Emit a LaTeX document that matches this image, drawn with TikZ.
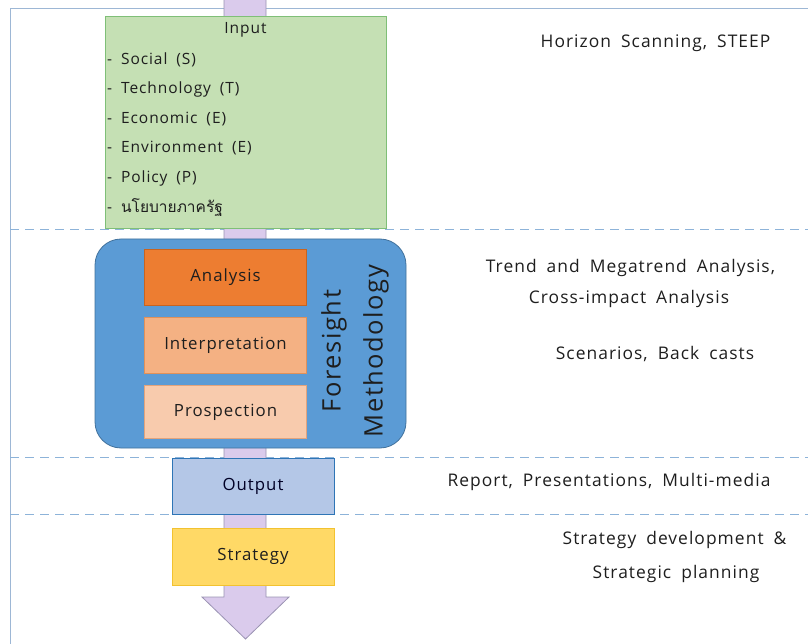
\documentclass[tikz,border=0pt]{standalone}
\usepackage{fontspec}
\setmainfont{Open Sans}[LetterSpace=6,WordSpace=1.8]
\newfontfamily\thaifont[Script=Thai]{Loma}
\usetikzlibrary{positioning}
\definecolor{framec}{HTML}{9DB7D5}
\definecolor{dashc}{HTML}{8DB3D9}
\definecolor{arrowfill}{HTML}{DACBEC}
\definecolor{arrowdraw}{HTML}{9A93B3}
\definecolor{inputfill}{HTML}{C5E0B4}
\definecolor{inputdraw}{HTML}{7FBF77}
\definecolor{methfill}{HTML}{5B9BD5}
\definecolor{methdraw}{HTML}{41719C}
\definecolor{anafill}{HTML}{ED7D31}
\definecolor{anadraw}{HTML}{C9641F}
\definecolor{intfill}{HTML}{F4B183}
\definecolor{intdraw}{HTML}{E0915A}
\definecolor{profill}{HTML}{F8CBAD}
\definecolor{prodraw}{HTML}{E3A47C}
\definecolor{outfill}{HTML}{B4C7E7}
\definecolor{outdraw}{HTML}{2E75B6}
\definecolor{strfill}{HTML}{FFD966}
\definecolor{strdraw}{HTML}{F2C230}
\definecolor{txt}{HTML}{1E1E1E}
\begin{document}
\begin{tikzpicture}[x=1pt,y=-1pt,
  box/.style={draw, line width=0.8pt, inner sep=0pt, text=txt, font=\fontsize{16.8}{20}\selectfont},
  itemtxt/.style={anchor=west, inner sep=0pt, text=txt, font=\fontsize{15.5}{19}\selectfont},
  note/.style={inner sep=0pt, text=txt, font=\fontsize{17.4}{21}\selectfont},
  sep/.style={draw=dashc, line width=0.8pt, dash pattern=on 9pt off 6pt}
]
\useasboundingbox (0,0) rectangle (808,644);
% frame
\coordinate (fbl) at (10,644);
\coordinate (ftl) at (10,8);
\coordinate (ftr) at (808,8);
\draw[framec, line width=0.9pt] (fbl) -- (ftl) -- (ftr);
% dashed separators
\foreach \yy/\nm in {229/a,457/b,514/c}{
  \coordinate (sl\nm) at (10,\yy);
  \coordinate (sr\nm) at (808,\yy);
  \draw[sep] (sl\nm) -- (sr\nm);
}
% big arrow
\coordinate (s1) at (224,0);
\coordinate (s2) at (266,0);
\coordinate (h2) at (266,597);
\coordinate (h3) at (289,597);
\coordinate (tip) at (245.5,639);
\coordinate (h4) at (202,597);
\coordinate (h1) at (224,597);
\draw[fill=arrowfill, draw=arrowdraw, line width=0.8pt, line join=miter]
  (s1) -- (h1) -- (h4) -- (tip) -- (h3) -- (h2) -- (s2);
% input box
\node[box, fill=inputfill, draw=inputdraw, minimum width=281pt, minimum height=212pt] (input) at (245.5,122) {};
\node[inner sep=0pt, text=txt, font=\fontsize{15.5}{19}\selectfont] (inputt) at (245.5,30) {Input};
\node[itemtxt] (i1) at (107,60) {- Social (S)};
\node[itemtxt] (i2) at (107,89.5) {- Technology (T)};
\node[itemtxt] (i3) at (107,119) {- Economic (E)};
\node[itemtxt] (i4) at (107,148.5) {- Environment (E)};
\node[itemtxt] (i5) at (107,178) {- Policy (P)};
\node[itemtxt] (i6) at (107,208) {- {\thaifont นโยบายภาครัฐ}};
% methodology
\node[box, fill=methfill, draw=methdraw, rounded corners=26pt, minimum width=311pt, minimum height=209pt] (meth) at (250.5,343.5) {};
\node[box, fill=anafill, draw=anadraw, minimum width=162pt, minimum height=56pt] (ana) at (225.5,277.5) {Analysis};
\node[box, fill=intfill, draw=intdraw, minimum width=162pt, minimum height=56pt] (int) at (225.5,345) {Interpretation};
\node[box, fill=profill, draw=prodraw, minimum width=162pt, minimum height=53pt] (pro) at (225.5,412) {Prospection};
\node[inner sep=0pt, rotate=90, align=center, text=txt, font=\fontsize{25.5}{42}\selectfont] (methlab) at (355,351) {Foresight\\Methodology};
% output / strategy
\node[box, fill=outfill, draw=outdraw, minimum width=162pt, minimum height=56pt, text=black!85!blue] (out) at (253,486) {Output};
\node[box, fill=strfill, draw=strdraw, minimum width=162pt, minimum height=57pt] (str) at (253,556.5) {Strategy};
% notes
\node[note] (n1) at (655.5,43) {Horizon Scanning, STEEP};
\node[note] (n2) at (630.5,268) {Trend and Megatrend Analysis,};
\node[note] (n3) at (629,299) {Cross-impact Analysis};
\node[note] (n4) at (655,354) {Scenarios, Back casts};
\node[note] (n5) at (609,482) {Report, Presentations, Multi-media};
\node[note] (n6) at (674.5,540) {Strategy development \&};
\node[note] (n7) at (676,574) {Strategic planning};
\end{tikzpicture}
\end{document}
